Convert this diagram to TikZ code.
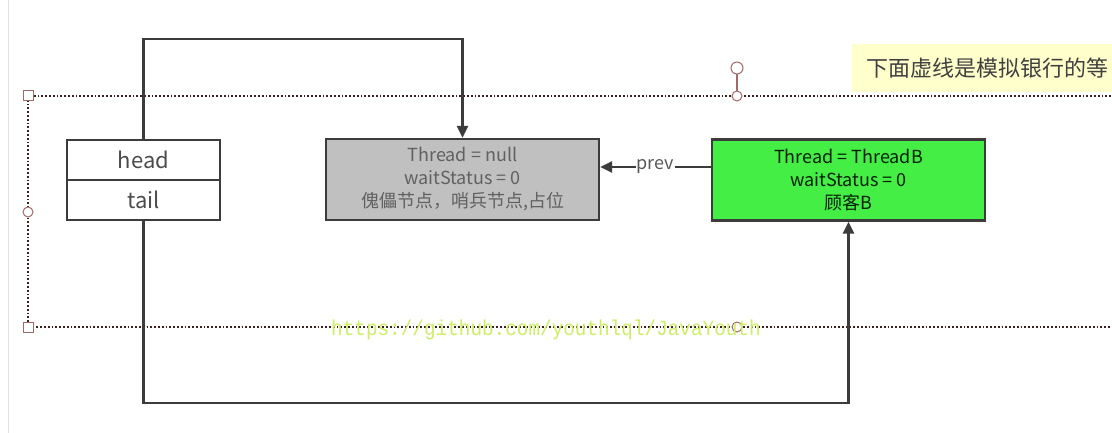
\documentclass[tikz,border=0pt]{standalone}
\usepackage{fontspec}
\setmainfont{Noto Sans CJK SC}
\newfontfamily\wmfont{Liberation Mono}
\usetikzlibrary{arrows.meta}
\definecolor{linec}{HTML}{3C3C3C}
\definecolor{grayfill}{HTML}{C0C0C0}
\definecolor{greenfill}{HTML}{44EE44}
\definecolor{notefill}{HTML}{FFFFCC}
\definecolor{dotc}{HTML}{3A2020}
\definecolor{handlec}{HTML}{A06A6A}
\definecolor{wmc}{HTML}{CCEE66}
\tikzset{
  conn/.style={draw=linec, line width=2.4pt},
  arr/.style={conn, -{Triangle[length=12pt,width=11pt]}},
  field/.style={draw=linec, line width=2.4pt, fill=white, minimum width=153pt, minimum height=40pt, inner sep=0pt, font=\fontsize{22}{22}\selectfont, text=black!70},
  qnode/.style={draw=linec, line width=2.4pt, minimum width=273pt, minimum height=81pt, inner sep=0pt, align=center, font=\fontsize{18}{23}\selectfont},
  dotline/.style={draw=dotc, dotted, line width=1.8pt},
  handle/.style={draw=handlec, fill=white, line width=1pt},
}
\begin{document}
\begin{tikzpicture}[x=1pt,y=-1pt]
\useasboundingbox (0,0) rectangle (1112,433);
\fill[white] (0,0) rectangle (1112,433);
\draw[black!12, line width=1pt] (8,0) -- (8,433);
\begin{scope}
\clip (0,0) rectangle (1112,433);
% note
\node[fill=notefill, anchor=north west, minimum width=270pt, minimum height=48pt, inner sep=0pt] (note) at (852,44) {};
\node[anchor=west, inner sep=0pt, text=black!75, font=\fontsize{22}{22}\selectfont] (notetext) at (866,68) {下面虚线是模拟银行的等};
% dotted region
\coordinate (dtl) at (28,96);
\coordinate (dbl) at (28,327);
\coordinate (dtr) at (1130,96);
\coordinate (dbr) at (1130,327);
\draw[dotline] (dtr) -- (dtl) -- (dbl) -- (dbr);
\end{scope}
% handles
\draw[handlec, line width=1.2pt] (737,68) -- (737,96);
\draw[handle] (737,68) circle (6pt);
\draw[handle] (737,96) circle (5pt);
\draw[handle] (737,327) circle (5pt);
\draw[handle] (28,212) circle (5pt);
\draw[handle] (23,91) rectangle (33,101);
\draw[handle] (23,322) rectangle (33,332);
% watermark
\node[text=wmc, inner sep=0pt, font=\wmfont\fontsize{21.5}{21.5}\selectfont, xscale=0.9, transform shape] (wm) at (546,330) {https://github.com/youthlql/JavaYouth};
% nodes
\node[field] (head) at (143.5,160) {head};
\node[field] (tail) at (143.5,200) {tail};
\node[qnode, fill=grayfill, text=black!62] (dummy) at (462.5,179.5) {Thread = null\\waitStatus = 0\\傀儡节点，哨兵节点,占位};
\node[qnode, fill=greenfill, text=black!70!green!40!black] (nodeb) at (848.5,180) {Thread = ThreadB\\waitStatus = 0\\顾客B};
% connectors
\draw[arr] (head.north) -- ++(0,-100) -| (dummy.north);
\draw[arr] (tail.south) -- ++(0,182) -| (nodeb.south);
\draw[arr] (nodeb.west |- 0,167) -- node[fill=white, inner sep=1pt, text=black!65, font=\fontsize{18}{18}\selectfont] (prevlbl) {prev} (dummy.east |- 0,167);
\end{tikzpicture}
\end{document}
